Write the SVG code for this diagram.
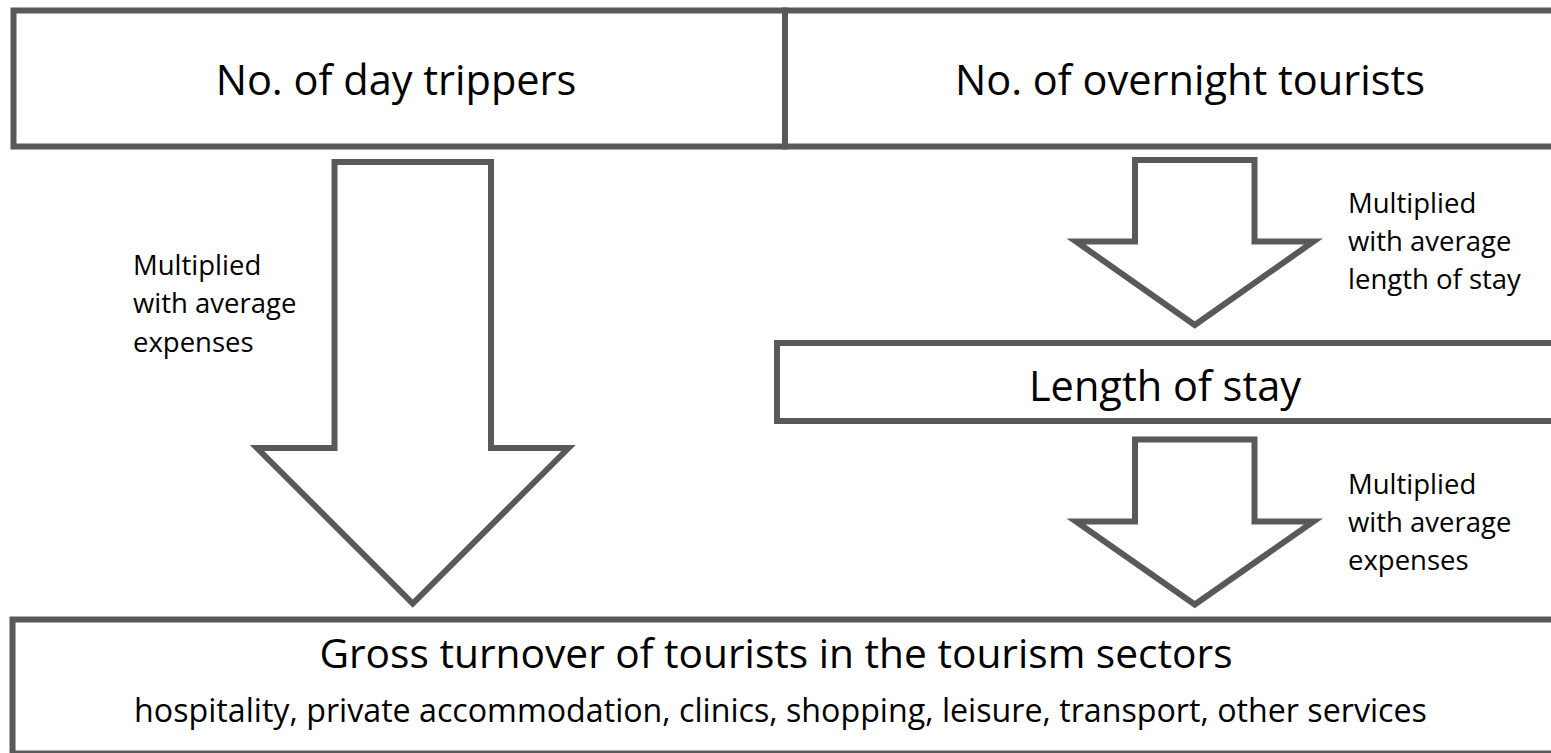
<svg xmlns="http://www.w3.org/2000/svg" width="1551" height="753" viewBox="0 0 1551 753">
  <style>
    .box { fill: #ffffff; stroke: #595959; stroke-width: 6; }
    .arrow { fill: #ffffff; stroke: #595959; stroke-width: 6; stroke-linejoin: miter; }
    .title { font-family: "Open Sans", "Liberation Sans", sans-serif; font-size: 41.5px; fill: #000000; text-anchor: middle; }
    .headline { font-family: "Open Sans", "Liberation Sans", sans-serif; font-size: 40.7px; fill: #000000; text-anchor: middle; }
    .sub { font-family: "Open Sans", "Liberation Sans", sans-serif; font-size: 32.2px; fill: #000000; text-anchor: middle; }
    .label { font-family: "Open Sans", "Liberation Sans", sans-serif; font-size: 27.5px; fill: #000000; }
  </style>
  <rect width="1551" height="753" fill="#ffffff"/>

  <!-- source boxes -->
  <g id="day-trippers">
    <rect class="box" x="13.5" y="10.5" width="771.5" height="136"/>
    <text class="title" x="396" y="95">No. of day trippers</text>
  </g>
  <g id="overnight-tourists">
    <rect class="box" x="785" y="10.5" width="780" height="136"/>
    <text class="title" x="1190" y="95">No. of overnight tourists</text>
  </g>

  <g id="length-of-stay">
    <rect class="box" x="777" y="343" width="790" height="78"/>
    <text class="title" x="1165" y="401">Length of stay</text>
  </g>

  <g id="gross-turnover">
    <rect class="box" x="12.5" y="619.5" width="1555" height="134"/>
    <text class="headline" x="776" y="668">Gross turnover of tourists in the tourism sectors</text>
    <text class="sub" x="780.5" y="722">hospitality, private accommodation, clinics, shopping, leisure, transport, other services</text>
  </g>

  <!-- block arrows between stages -->
  <g id="connectors">
    <polygon class="arrow" points="334.5,162 491,162 491,448 568.5,448 412.75,603.5 257,448 334.5,448"/>
    <polygon class="arrow" points="1135,160 1254.5,160 1254.5,241.5 1313.5,241.5 1194.75,325 1076,241.5 1135,241.5"/>
    <polygon class="arrow" points="1135,439.5 1254.5,439.5 1254.5,521.5 1313.5,521.5 1194.75,604.5 1076,521.5 1135,521.5"/>
  </g>

  <g id="labels">
    <text class="label">
      <tspan x="133" y="275">Multiplied</tspan>
      <tspan x="133" y="313.3">with average</tspan>
      <tspan x="133" y="351.6">expenses</tspan>
    </text>
    <text class="label">
      <tspan x="1348" y="213.3">Multiplied</tspan>
      <tspan x="1348" y="251">with average</tspan>
      <tspan x="1348" y="288.5">length of stay</tspan>
    </text>
    <text class="label">
      <tspan x="1348" y="494.3">Multiplied</tspan>
      <tspan x="1348" y="532">with average</tspan>
      <tspan x="1348" y="570">expenses</tspan>
    </text>
  </g>
</svg>
